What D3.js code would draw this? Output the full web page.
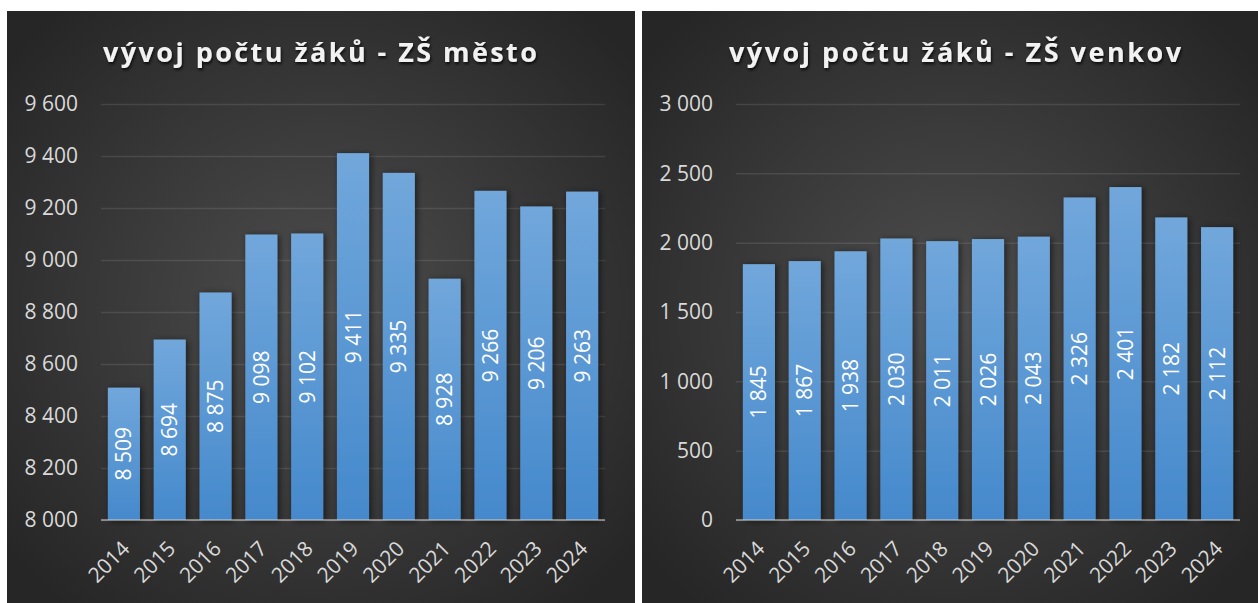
<!DOCTYPE html>
<html>
<head>
<meta charset="utf-8">
<script src="https://cdn.jsdelivr.net/npm/d3@7"></script>
<style>
  body { margin: 0; background: #fff; }
  svg { display: block; }
</style>
</head>
<body>
<svg id="chart"></svg>
<script>
// data
const years = ['2014','2015','2016','2017','2018','2019','2020','2021','2022','2023','2024'];
const mestoValues = [8509, 8694, 8875, 9098, 9102, 9411, 9335, 8928, 9266, 9206, 9263];
const venkovValues = [1845, 1867, 1938, 2030, 2011, 2026, 2043, 2326, 2401, 2182, 2112];
const mestoTicks = [8000, 8200, 8400, 8600, 8800, 9000, 9200, 9400, 9600];
const venkovTicks = [0, 500, 1000, 1500, 2000, 2500, 3000];
const titles = ['vývoj počtu žáků - ZŠ město', 'vývoj počtu žáků - ZŠ venkov'];

const W = 1258, H = 603;
const fmt = d3.formatLocale({ decimal: ',', thousands: ' ', grouping: [3], currency: ['', ' Kč'] }).format(',d');
const font = '"Open Sans", "Noto Sans", sans-serif';

const svg = d3.select('#chart').attr('width', W).attr('height', H);
const defs = svg.append('defs');

const bg = defs.append('radialGradient').attr('id', 'bg')
    .attr('cx', '50%').attr('cy', '50%').attr('r', '65%');
bg.append('stop').attr('offset', '0%').attr('stop-color', '#4d4d4d');
bg.append('stop').attr('offset', '100%').attr('stop-color', '#262626');

const barGrad = defs.append('linearGradient').attr('id', 'bar')
    .attr('x1', 0).attr('y1', 0).attr('x2', 0).attr('y2', 1);
barGrad.append('stop').attr('offset', '0%').attr('stop-color', '#71a7db');
barGrad.append('stop').attr('offset', '100%').attr('stop-color', '#4589cc');

const shadow = defs.append('filter').attr('id', 'shadow')
    .attr('x', '-30%').attr('y', '-10%').attr('width', '160%').attr('height', '120%');
shadow.append('feDropShadow').attr('dx', 2).attr('dy', 1).attr('stdDeviation', 3)
    .attr('flood-color', '#000').attr('flood-opacity', 0.55);

const tshadow = defs.append('filter').attr('id', 'tshadow');
tshadow.append('feDropShadow').attr('dx', 1).attr('dy', 2).attr('stdDeviation', 1.5)
    .attr('flood-color', '#000').attr('flood-opacity', 0.8);

function drawPanel(cfg, values, ticks, title) {
    const g = svg.append('g');

    g.append('rect')
        .attr('x', cfg.px).attr('y', cfg.py)
        .attr('width', cfg.pw).attr('height', cfg.ph)
        .attr('fill', 'url(#bg)');

    const x = d3.scaleBand().domain(years)
        .range([cfg.x0, cfg.x0 + cfg.w]).paddingInner(0.3).paddingOuter(0.15);
    const y = d3.scaleLinear().domain(d3.extent(ticks)).range([cfg.y1, cfg.y0]);

    // gridlines + y labels
    const yAxis = g.append('g')
        .attr('transform', `translate(${cfg.x0},0)`)
        .call(d3.axisLeft(y).tickValues(ticks).tickFormat(fmt).tickSize(-cfg.w).tickPadding(23));
    yAxis.select('.domain').remove();
    yAxis.selectAll('.tick line')
        .attr('stroke', 'rgba(255,255,255,0.1)').attr('stroke-width', 1.5);
    yAxis.selectAll('.tick text')
        .attr('fill', '#d9d9d9').attr('font-size', 21).attr('font-family', font);

    // bars
    g.append('g').selectAll('rect')
        .data(values)
        .join('rect')
        .attr('x', (d, i) => x(years[i]))
        .attr('y', d => y(d))
        .attr('width', x.bandwidth())
        .attr('height', d => y(ticks[0]) - y(d))
        .attr('fill', 'url(#bar)')
        .attr('filter', 'url(#shadow)');

    // value labels
    g.append('g').selectAll('text')
        .data(values)
        .join('text')
        .attr('transform', (d, i) => `translate(${x(years[i]) + x.bandwidth() / 2},${(y(d) + y(ticks[0])) / 2}) rotate(-90)`)
        .attr('text-anchor', 'middle')
        .attr('dy', '0.36em')
        .attr('fill', '#fff')
        .attr('font-size', 21)
        .attr('font-family', font)
        .text(d => fmt(d));

    // x axis
    const xAxis = g.append('g')
        .attr('transform', `translate(0,${cfg.y1})`)
        .call(d3.axisBottom(x).tickSize(0));
    xAxis.select('.domain').remove();
    xAxis.selectAll('.tick text')
        .attr('fill', '#d9d9d9').attr('font-size', 21).attr('font-family', font)
        .attr('text-anchor', 'end')
        .attr('y', 0).attr('dy', 0)
        .attr('transform', 'translate(7,30) rotate(-45)');

    g.append('line')
        .attr('x1', cfg.x0).attr('x2', cfg.x0 + cfg.w)
        .attr('y1', cfg.y1).attr('y2', cfg.y1)
        .attr('stroke', 'rgba(200,200,200,0.55)').attr('stroke-width', 2);

    // title
    g.append('text')
        .attr('x', cfg.tx).attr('y', 62)
        .attr('text-anchor', 'middle')
        .attr('fill', '#f2f2f2')
        .attr('font-size', 27)
        .attr('font-weight', 'bold')
        .attr('font-family', font)
        .attr('textLength', cfg.tl).attr('lengthAdjust', 'spacing')
        .attr('filter', 'url(#tshadow)')
        .text(title);
}

drawPanel({ px: 7, py: 11, pw: 628, ph: 592, x0: 101, w: 504, y0: 104, y1: 520, tx: 320, tl: 434 },
    mestoValues, mestoTicks, titles[0]);
drawPanel({ px: 642, py: 11, pw: 616, ph: 592, x0: 736, w: 504, y0: 104, y1: 520, tx: 955, tl: 452 },
    venkovValues, venkovTicks, titles[1]);
</script>
</body>
</html>
